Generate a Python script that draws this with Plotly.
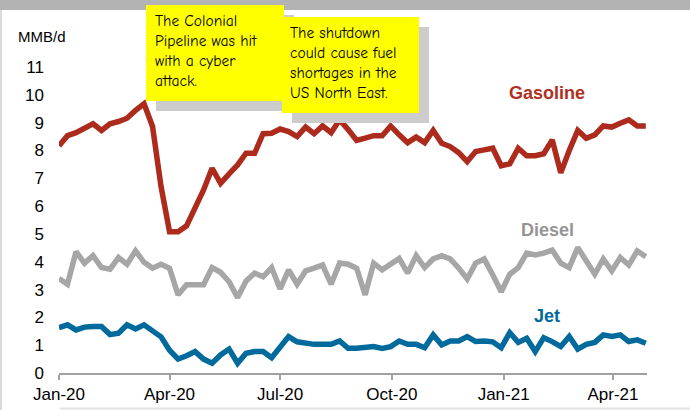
import pandas as pd
import plotly.graph_objects as go

# ---- data (MMB/d, weekly) ----
dates = pd.date_range("2020-01-01", periods=70, freq="7D")

gasoline = [8.17, 8.53, 8.64, 8.80, 8.96, 8.72, 8.96, 9.04, 9.16, 9.44,
            9.68, 8.86, 6.70, 5.08, 5.08, 5.29, 5.92, 6.58, 7.36, 6.82,
            7.16, 7.48, 7.90, 7.90, 8.60, 8.62, 8.77, 8.68, 8.50, 8.84,
            8.60, 8.88, 8.64, 9.10, 8.75, 8.36, 8.44, 8.53, 8.53, 8.88,
            8.56, 8.28, 8.48, 8.28, 8.72, 8.26, 8.14, 7.92, 7.60, 7.96,
            8.02, 8.08, 7.45, 7.52, 8.08, 7.81, 7.81, 7.88, 8.38, 7.20,
            8.00, 8.72, 8.44, 8.56, 8.88, 8.84, 8.98, 9.10, 8.88, 8.88]

diesel = [3.40, 3.19, 4.36, 3.95, 4.22, 3.79, 3.73, 4.15, 3.91, 4.39,
          3.98, 3.77, 3.91, 3.77, 2.81, 3.17, 3.17, 3.17, 3.79, 3.62,
          3.28, 2.71, 3.31, 3.59, 3.46, 3.79, 3.02, 3.71, 3.19, 3.67,
          3.77, 3.88, 3.19, 3.95, 3.91, 3.77, 2.81, 3.95, 3.71, 3.92,
          4.12, 3.59, 4.22, 3.79, 4.10, 4.22, 4.10, 3.77, 3.38, 3.95,
          4.10, 3.53, 2.92, 3.55, 3.79, 4.31, 4.24, 4.31, 4.42, 3.95,
          3.79, 4.51, 4.00, 3.55, 4.10, 3.67, 4.15, 3.88, 4.39, 4.18]

jet = [1.63, 1.73, 1.55, 1.65, 1.67, 1.67, 1.38, 1.43, 1.73, 1.58,
       1.73, 1.49, 1.30, 0.82, 0.50, 0.62, 0.77, 0.50, 0.35, 0.65,
       0.86, 0.35, 0.71, 0.77, 0.77, 0.55, 0.95, 1.31, 1.12, 1.05,
       1.03, 1.03, 1.03, 1.15, 0.89, 0.89, 0.93, 0.95, 0.88, 0.95,
       1.15, 1.03, 1.03, 0.91, 1.37, 1.01, 1.15, 1.15, 1.31, 1.13,
       1.15, 1.12, 0.91, 1.45, 1.10, 1.25, 0.77, 1.27, 1.13, 0.95,
       1.31, 0.86, 1.03, 1.10, 1.37, 1.31, 1.37, 1.13, 1.19, 1.07]

series_names = ["Gasoline", "Diesel", "Jet"]
series_colors = ["#AD2B1C", "#A6A6A6", "#006A9C"]
label_colors = ["#B0301E", "#959595", "#006A9C"]

note1 = "The Colonial<br>Pipeline was hit<br>with a cyber<br>attack."
note2 = "The shutdown<br>could cause fuel<br>shortages in the<br>US North East."

# ---- figure ----
W, H = 690, 410
ML, MR, MT, MB = 59, 43, 67, 37
PW, PH = W - ML - MR, H - MT - MB


def px(x):
    return (x - ML) / PW


def py(y):
    return (H - MB - y) / PH


fig = go.Figure()
for vals, name, col in zip([gasoline, diesel, jet], series_names, series_colors):
    fig.add_trace(go.Scatter(x=dates, y=vals, mode="lines", name=name,
                             line=dict(color=col, width=5.5),
                             showlegend=False, hoverinfo="skip"))

label_x = "2021-02-06"
for name, yv, col in zip(series_names, [10.07, 5.14, 2.05], label_colors):
    fig.add_annotation(x=label_x, y=yv, xref="x", yref="y", text="<b>%s</b>" % name,
                       showarrow=False, font=dict(family="Liberation Sans, Arial", size=18, color=col))

shapes = []
# top gray band
shapes.append(dict(type="rect", xref="paper", yref="paper", x0=px(-5), x1=px(700),
                   y0=py(10), y1=py(-5), fillcolor="#B3B3B3", line=dict(width=0), layer="above"))
# left and bottom light borders
shapes.append(dict(type="line", xref="paper", yref="paper", x0=px(1), x1=px(1),
                   y0=py(410), y1=py(10), line=dict(color="#DADADA", width=2)))
shapes.append(dict(type="line", xref="paper", yref="paper", x0=px(60), x1=px(690),
                   y0=py(408.5), y1=py(408.5), line=dict(color="#E3E3E3", width=2)))
# note boxes with shadows
for (x0, y0, x1, y1) in [(146, 5, 284, 101), (282, 17, 419, 113)]:
    shapes.append(dict(type="rect", xref="paper", yref="paper", x0=px(x0 + 10), x1=px(x1 + 10),
                       y0=py(y1 + 10), y1=py(y0 + 10), fillcolor="#CCCCCC", line=dict(width=0)))
    shapes.append(dict(type="rect", xref="paper", yref="paper", x0=px(x0), x1=px(x1),
                       y0=py(y1), y1=py(y0), fillcolor="#FFFF00", line=dict(width=0)))

note_font = dict(family="Comic Sans MS, Comic Neue, Lato, sans-serif", size=15.5, color="#000000")
fig.add_annotation(xref="paper", yref="paper", x=px(153), y=py(10), xanchor="left", yanchor="top",
                   text=note1, align="left", showarrow=False, font=note_font)
fig.add_annotation(xref="paper", yref="paper", x=px(288), y=py(22), xanchor="left", yanchor="top",
                   text=note2, align="left", showarrow=False, font=note_font)

# axis unit label
fig.add_annotation(xref="paper", yref="paper", x=px(16), y=py(37), xanchor="left", yanchor="middle",
                   text="MMB/d", showarrow=False,
                   font=dict(family="Liberation Sans, Arial", size=15, color="#000000"))

fig.update_layout(
    width=W, height=H,
    margin=dict(l=ML, r=MR, t=MT, b=MB, pad=0, autoexpand=False),
    paper_bgcolor="white", plot_bgcolor="white",
    shapes=shapes,
    font=dict(family="Liberation Sans, Arial", size=17, color="#000000"),
)
fig.update_xaxes(
    type="date", range=["2020-01-01", "2021-04-29"], automargin=False,
    tick0="2020-01-01", dtick="M3", tickformat="%b-%y",
    showgrid=False, zeroline=False,
    showline=True, linecolor="#A0A0A0", linewidth=1.5,
    ticks="outside", ticklen=5, tickcolor="#A0A0A0", tickwidth=1.5,
    tickfont=dict(size=17),
)
fig.update_yaxes(
    range=[0, 11], tick0=0, dtick=1, automargin=False,
    showgrid=False, zeroline=False, showline=False,
    ticks="", tickfont=dict(size=17), ticklabelstandoff=14,
)

fig.write_html("out.html", config={"displayModeBar": False},
               post_script="document.body.style.margin='0';document.body.style.overflow='hidden';")
